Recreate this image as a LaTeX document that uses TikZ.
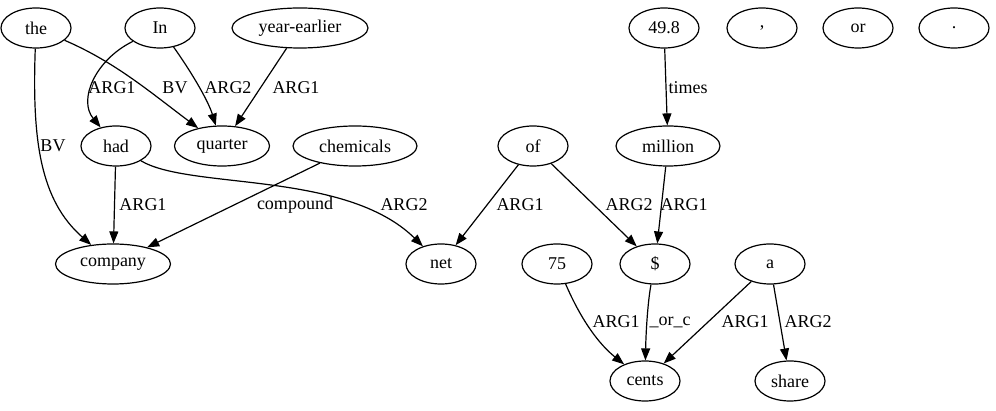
\documentclass[tikz,border=0pt]{standalone}
\usepackage{fontspec}
\setmainfont{Liberation Serif}
\usetikzlibrary{shapes.geometric,arrows.meta}
\begin{document}
\begin{tikzpicture}[x=1pt,y=-1pt,
  nd/.style={draw,ellipse,inner sep=0pt,minimum width=70pt,minimum height=40pt,line width=1.2pt,font=\fontsize{18}{20}\selectfont},
  ed/.style={draw,line width=1.2pt,-{Triangle[length=12pt,width=9pt]}},
  lb/.style={inner sep=0pt,font=\fontsize{18}{20}\selectfont}]
\useasboundingbox (0,0) rectangle (996,411);
\node[nd] (the) at (36,28) {the};
\node[nd] (In) at (160,28) {In};
\node[nd,minimum width=136pt] (ye) at (300,28) {year-earlier};
\node[nd] (n498) at (664,28) {49.8};
\node[nd] (comma) at (762,28) {,};
\node[nd] (or) at (858,28) {or};
\node[nd] (dot) at (954,28) {.};
\node[nd] (had) at (116,146) {had};
\node[nd,minimum width=95pt] (quarter) at (222,146) {quarter};
\node[nd,minimum width=124pt] (chem) at (355,146) {chemicals};
\node[nd] (of) at (533,146) {of};
\node[nd,minimum width=104pt] (million) at (668,146) {million};
\node[nd,minimum width=115pt] (company) at (113,264) {company};
\node[nd] (net) at (441,264) {net};
\node[nd] (n75) at (557,264) {75};
\node[nd] (dollar) at (655,264) {\$};
\node[nd] (a) at (770,264) {a};
\node[nd] (cents) at (645,381) {cents};
\node[nd] (share) at (790,381) {share};

\path[ed] (the) .. controls (115,62) and (150,92) .. (quarter);
\path[ed] (the) .. controls (32,140) and (40,200) .. (company);
\path[ed] (In) .. controls (95,60) and (78,100) .. (had);
\path[ed] (In) .. controls (190,70) and (208,100) .. (quarter);
\path[ed] (ye) -- (quarter);
\path[ed] (had) -- (company);
\path[ed] (had) .. controls (190,190) and (345,170) .. (net);
\path[ed] (chem) -- (company);
\path[ed] (of) -- (net);
\path[ed] (of) -- (dollar);
\path[ed] (n498) -- (million);
\path[ed] (million) -- (dollar);
\path[ed] (n75) .. controls (582,322) and (600,345) .. (cents);
\path[ed] (dollar) .. controls (648,300) and (646,330) .. (cents);
\path[ed] (a) -- (cents);
\path[ed] (a) -- (share);

\node[lb] (l1) at (175,88) {BV};
\node[lb] (l2) at (53,146) {BV};
\node[lb] (l3) at (112,88) {ARG1};
\node[lb] (l4) at (228,88) {ARG2};
\node[lb] (l5) at (296,88) {ARG1};
\node[lb] (l6) at (143,205) {ARG1};
\node[lb] (l7) at (295,205) {compound};
\node[lb] (l8) at (404,205) {ARG2};
\node[lb] (l9) at (520,205) {ARG1};
\node[lb] (l10) at (629,205) {ARG2};
\node[lb] (l11) at (684,205) {ARG1};
\node[lb] (l12) at (688,88) {times};
\node[lb] (l13) at (616,322) {ARG1};
\node[lb] (l14) at (670,322) {\_or\_c};
\node[lb] (l15) at (745,322) {ARG1};
\node[lb] (l16) at (808,322) {ARG2};
\end{tikzpicture}
\end{document}
